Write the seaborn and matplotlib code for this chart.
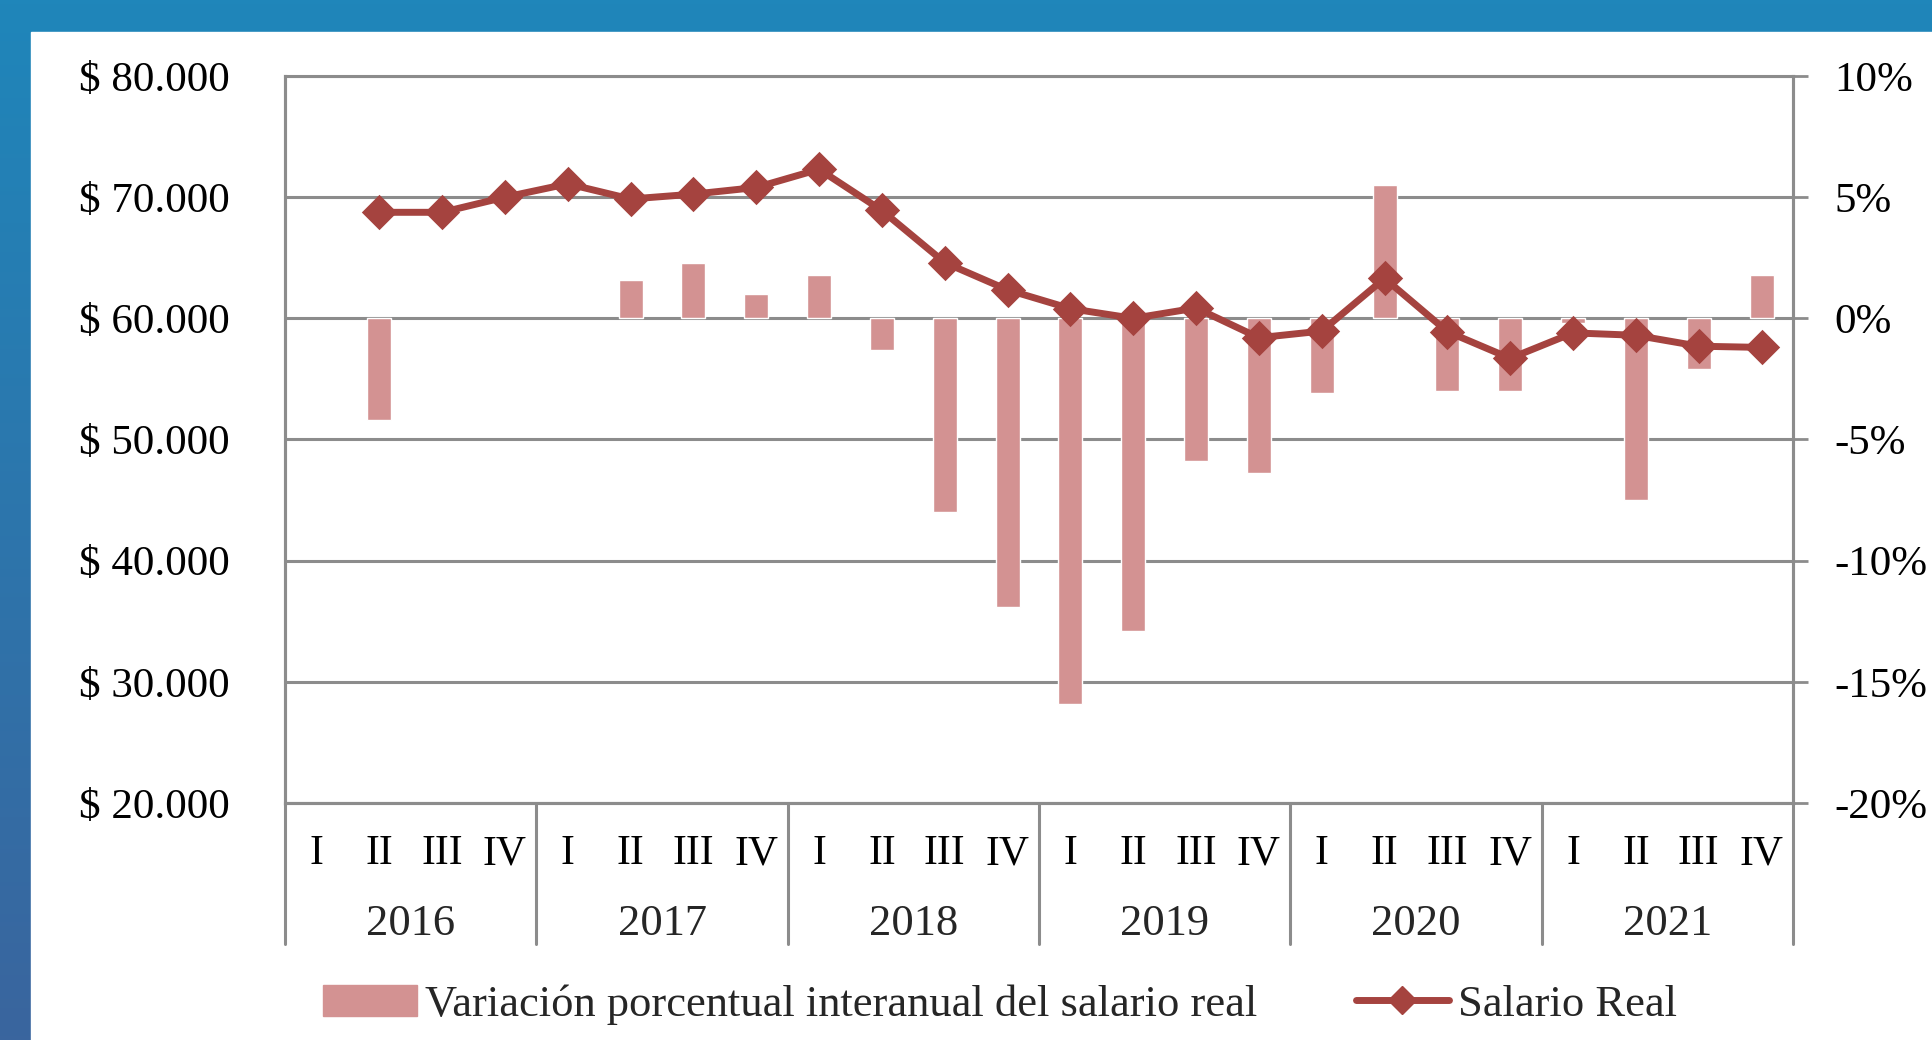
import numpy as np
import pandas as pd
import seaborn as sns
import matplotlib.pyplot as plt
from matplotlib.patches import Patch, Rectangle
from matplotlib.lines import Line2D
from matplotlib.colors import LinearSegmentedColormap
from matplotlib.ticker import FuncFormatter

# Datos
years = ["2016", "2017", "2018", "2019", "2020", "2021"]
quarters = ["I", "II", "III", "IV"]

salario_real = [np.nan, 68750, 68750, 70000, 71100, 69850, 70250, 70800,
                72300, 68900, 64600, 62350, 60800, 60000, 60850, 58400,
                58950, 63300, 58900, 56700, 58800, 58600, 57700, 57600]
variacion = [np.nan, -4.2, np.nan, np.nan, np.nan, 1.6, 2.3, 1.0,
             1.8, -1.3, -8.0, -11.9, -15.9, -12.9, -5.9, -6.4,
             -3.1, 5.5, -3.0, -3.0, -0.2, -7.5, -2.1, 1.8]

salario_ticks = [20000, 30000, 40000, 50000, 60000, 70000, 80000]
variacion_ticks = [-20, -15, -10, -5, 0, 5, 10]

bar_label = "Variación porcentual interanual del salario real"
line_label = "Salario Real"

periodos = [f"{y}-{q}" for y in years for q in quarters]
df = pd.DataFrame({
    "periodo": periodos,
    "trimestre": quarters * len(years),
    "salario": salario_real,
    "variacion": variacion,
})

bar_color = "#d39292"
line_color = "#a5433f"
grid_color = "#8c8c8c"

sns.set_theme(style="white")
plt.rcParams["font.family"] = ["Liberation Serif", "DejaVu Serif"]

fig = plt.figure(figsize=(19.32, 10.40), dpi=100)

# Fondo tipo diapositiva: franja azul arriba y a la izquierda
bg = fig.add_axes([0, 0, 1, 1], zorder=-10)
cmap = LinearSegmentedColormap.from_list("slide", ["#3a659e", "#1f86ba"])
bg.imshow(np.linspace(0, 1, 256).reshape(-1, 1), aspect="auto", cmap=cmap,
          extent=[0, 1, 0, 1], origin="lower")
bg.add_patch(Rectangle((31 / 1932, 0), 1, (1040 - 32) / 1040, color="white"))
bg.set_xlim(0, 1)
bg.set_ylim(0, 1)
bg.axis("off")

ax = fig.add_axes([285 / 1932, 1 - 803 / 1040, (1793 - 285) / 1932, 727 / 1040])
ax2 = ax.twinx()

# Barras (eje derecho)
sns.barplot(data=df, x="periodo", y="variacion", order=periodos, color=bar_color,
            saturation=1, width=0.38, errorbar=None, ax=ax2)

# Línea (eje izquierdo, encima de las barras)
sns.pointplot(data=df, x="periodo", y="salario", order=periodos, color=line_color,
              markers="D", markersize=14, linewidth=5, errorbar=None, ax=ax)

ax.set_zorder(ax2.get_zorder() + 1)
ax.patch.set_visible(False)

ax.set_xlim(-0.5, len(periodos) - 0.5)
ax.set_ylim(salario_ticks[0], salario_ticks[-1])
ax2.set_ylim(variacion_ticks[0], variacion_ticks[-1])

ax.set_yticks(salario_ticks)
ax.yaxis.set_major_formatter(FuncFormatter(lambda v, p: "$ " + f"{int(v):,}".replace(",", ".")))
ax2.set_yticks(variacion_ticks)
ax2.yaxis.set_major_formatter(FuncFormatter(lambda v, p: f"{int(v)}%"))

ax.grid(False)
ax2.grid(False)
ax2.yaxis.grid(True, color=grid_color, linewidth=2.2)
ax2.set_axisbelow(True)

ax.tick_params(axis="y", length=0, pad=40, labelsize=31, labelcolor="black")
ax2.tick_params(axis="y", length=11, width=2, color=grid_color, pad=19,
                labelsize=31, labelcolor="black", direction="out")
ax.set_xticks(range(len(periodos)))
ax.set_xticklabels(df["trimestre"])
ax.tick_params(axis="x", length=0, pad=23, labelsize=30, labelcolor="black")
ax.set_xlabel("")
ax.set_ylabel("")
ax2.set_ylabel("")

for a in (ax, ax2):
    for side in ["left", "right", "top", "bottom"]:
        a.spines[side].set_color(grid_color)
        a.spines[side].set_linewidth(2.2)
    a.spines["top"].set_visible(a is ax2)

# Años y separadores debajo del eje
for k, year in enumerate(years):
    ax.text(1.5 + 4 * k, -0.167, year, transform=ax.get_xaxis_transform(),
            ha="center", va="center", fontsize=32)
for k in range(len(years) + 1):
    ax.plot([-0.5 + 4 * k] * 2, [0, -0.194], transform=ax.get_xaxis_transform(),
            color=grid_color, linewidth=2.2, clip_on=False)

# Leyenda
handles = [Patch(color=bar_color),
           Line2D([], [], color=line_color, linewidth=5, marker="D", markersize=14)]
fig.legend(handles, [bar_label, line_label], loc="center", bbox_to_anchor=(0.5176, 0.034),
           ncol=2, frameon=False, fontsize=32, handlelength=2.1, handletextpad=0.2,
           columnspacing=2.2)

plt.savefig("out.png", dpi=100)
